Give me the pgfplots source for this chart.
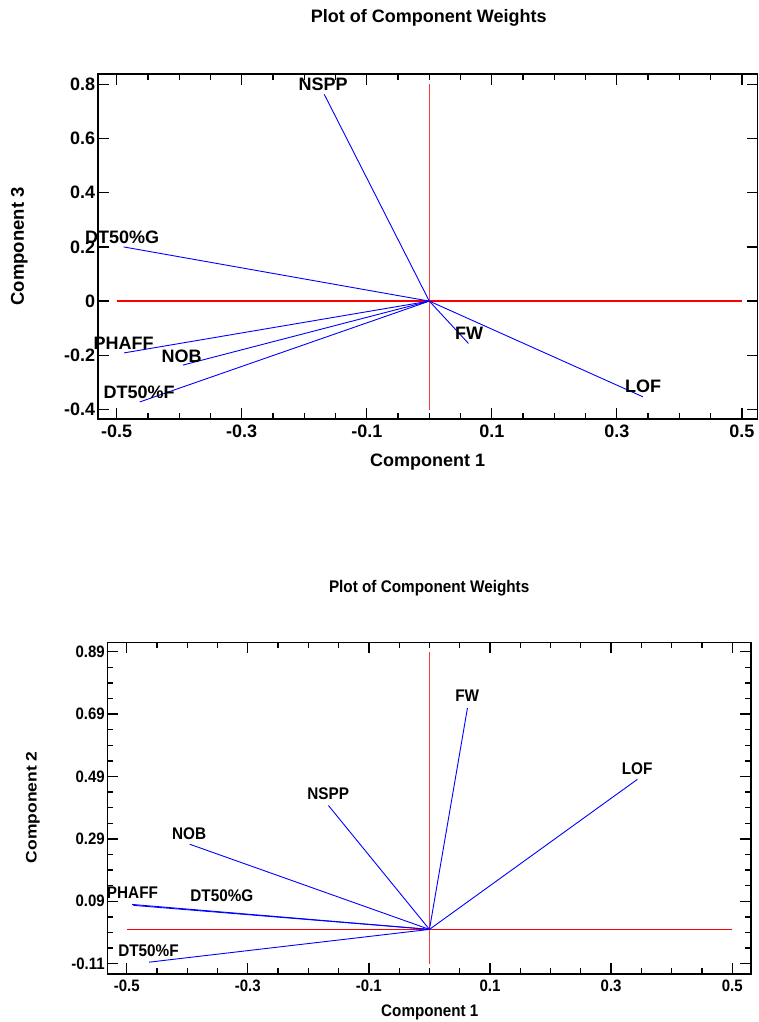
\documentclass[border=0pt]{standalone}
\usepackage{fontspec}
\setmainfont{Liberation Sans}
\usepackage{pgfplots}
\pgfplotsset{compat=1.18}
\definecolor{refred}{RGB}{255,0,0}
\definecolor{refpink}{RGB}{250,60,60}
\definecolor{vecblue}{RGB}{0,0,255}

\pgfplotsset{
  pca/.style={
    scale only axis,
    axis line style={line width=1.6pt},
    tick style={line width=1.3pt, black},
    tick align=inside,
    major tick length=11pt,
    minor tick length=6pt,
    clip=false,
  },
}
\tikzset{
  labtop/.style={font=\fontsize{18}{20}\selectfont\bfseries, inner sep=0pt},
  labbot/.style={font=\fontsize{15.3}{17}\selectfont\bfseries, inner sep=0pt, yscale=1.1},
  refline/.style={line width=1.3pt},
}

\begin{document}
\begin{tikzpicture}
\useasboundingbox (0pt,0pt) rectangle (758pt,-1022pt);

% ---- top: component 1 vs component 3
\begin{axis}[pca,
  at={(97.7pt,-419pt)}, anchor=south west,
  width=659.8pt, height=345pt,
  xmin=-0.5304, xmax=0.5250,
  ymin=-0.435, ymax=0.838,
  xtick={-0.5,-0.3,-0.1,0.1,0.3,0.5},
  xticklabels={-0.5,-0.3,-0.1,0.1,0.3,0.5},
  minor xtick={-0.45,-0.4,-0.35,-0.25,-0.2,-0.15,-0.05,0,0.05,0.15,0.2,0.25,0.35,0.4,0.45},
  ytick={-0.4,-0.2,0,0.2,0.4,0.6,0.8},
  yticklabels={-0.4,-0.2,0,0.2,0.4,0.6,0.8},
  ticklabel style={font=\fontsize{18}{20}\selectfont\bfseries},
  xticklabel style={yshift=-2pt},
  yticklabel style={xshift=1pt},
  title={Plot of Component Weights},
  title style={at={(axis description cs:0.5017,1.145)}, anchor=center,
    font=\fontsize{18}{20}\selectfont\bfseries},
  xlabel={Component 1},
  xlabel style={at={(axis description cs:0.5,-0.124)}, anchor=center,
    font=\fontsize{18}{20}\selectfont\bfseries},
  ylabel={Component 3},
  ylabel style={at={(axis description cs:-0.1186,0.5)}, anchor=center,
    font=\fontsize{18.5}{20}\selectfont\bfseries},
]
\draw[refline, refred] (axis cs:-0.5,0) -- (axis cs:0.5,0);
\draw[refline, refpink] (axis cs:0,-0.4) -- (axis cs:0,0.8);
\addplot[vecblue, line width=0.9pt, mark=none] coordinates {(0,0) (-0.168,0.763)};  % NSPP
\addplot[vecblue, line width=0.9pt, mark=none] coordinates {(0,0) (-0.489,0.200)};  % DT50%G
\addplot[vecblue, line width=0.9pt, mark=none] coordinates {(0,0) (-0.488,-0.191)}; % PHAFF
\addplot[vecblue, line width=0.9pt, mark=none] coordinates {(0,0) (-0.394,-0.236)}; % NOB
\addplot[vecblue, line width=0.9pt, mark=none] coordinates {(0,0) (-0.463,-0.372)}; % DT50%F
\addplot[vecblue, line width=0.9pt, mark=none] coordinates {(0,0) (0.0626,-0.156)}; % FW
\addplot[vecblue, line width=0.9pt, mark=none] coordinates {(0,0) (0.3416,-0.353)}; % LOF
\node[labtop] at (axis cs:-0.170,0.801) {NSPP};
\node[labtop] at (axis cs:-0.4915,0.237) {DT50\%G};
\node[labtop] at (axis cs:-0.489,-0.155) {PHAFF};
\node[labtop] at (axis cs:-0.396,-0.202) {NOB};
\node[labtop] at (axis cs:-0.4643,-0.335) {DT50\%F};
\node[labtop] at (axis cs:0.0637,-0.118) {FW};
\node[labtop] at (axis cs:0.342,-0.314) {LOF};
\end{axis}

% ---- bottom: component 1 vs component 2
\begin{axis}[pca,
  at={(107.3pt,-973.7pt)}, anchor=south west,
  width=643.7pt, height=331.4pt,
  xmin=-0.532, xmax=0.531,
  ymin=-0.142, ymax=0.920,
  xtick={-0.5,-0.3,-0.1,0.1,0.3,0.5},
  xticklabels={-0.5,-0.3,-0.1,0.1,0.3,0.5},
  minor xtick={-0.45,-0.4,-0.35,-0.25,-0.2,-0.15,-0.05,0,0.05,0.15,0.2,0.25,0.35,0.4,0.45},
  ytick={-0.11,0.09,0.29,0.49,0.69,0.89},
  yticklabels={-0.11,0.09,0.29,0.49,0.69,0.89},
  minor ytick={-0.06,-0.01,0.04,0.14,0.19,0.24,0.34,0.39,0.44,0.54,0.59,0.64,0.74,0.79,0.84},
  ticklabel style={font=\fontsize{15}{17}\selectfont\bfseries, yscale=1.1},
  xticklabel style={yshift=-2pt},
  yticklabel style={xshift=1pt},
  title={Plot of Component Weights},
  title style={at={(axis description cs:0.5,1.1467)}, anchor=center,
    font=\fontsize{15.3}{17}\selectfont\bfseries, yscale=1.1},
  xlabel={Component 1},
  xlabel style={at={(axis description cs:0.501,-0.1177)}, anchor=center,
    font=\fontsize{15.2}{17}\selectfont\bfseries, yscale=1.1},
  ylabel={Component 2},
  ylabel style={at={(axis description cs:-0.1154,0.502)}, anchor=center,
    font=\fontsize{15.2}{17}\selectfont\bfseries, xscale=1.15},
]
\draw[refline, refred] (axis cs:-0.5,0) -- (axis cs:0.5,0);
\draw[refline, refpink] (axis cs:0,-0.11) -- (axis cs:0,0.89);
\addplot[vecblue, line width=0.9pt, mark=none] coordinates {(0,0) (-0.1668,0.397)}; % NSPP
\addplot[vecblue, line width=0.9pt, mark=none] coordinates {(0,0) (-0.396,0.273)};  % NOB
\addplot[vecblue, line width=0.9pt, mark=none] coordinates {(0,0) (-0.491,0.080)};  % PHAFF
\addplot[vecblue, line width=0.9pt, mark=none] coordinates {(0,0) (-0.489,0.077)};  % DT50%G
\addplot[vecblue, line width=0.9pt, mark=none] coordinates {(0,0) (-0.463,-0.105)}; % DT50%F
\addplot[vecblue, line width=0.9pt, mark=none] coordinates {(0,0) (0.0628,0.710)};  % FW
\addplot[vecblue, line width=0.9pt, mark=none] coordinates {(0,0) (0.3435,0.481)};  % LOF
\node[labbot] at (axis cs:-0.1673,0.436) {NSPP};
\node[labbot] at (axis cs:-0.3968,0.308) {NOB};
\node[labbot] at (axis cs:-0.4904,0.116) {PHAFF};
\node[labbot] at (axis cs:-0.3428,0.108) {DT50\%G};
\node[labbot] at (axis cs:-0.464,-0.068) {DT50\%F};
\node[labbot] at (axis cs:0.0623,0.748) {FW};
\node[labbot] at (axis cs:0.343,0.514) {LOF};
\end{axis}
\end{tikzpicture}
\end{document}
